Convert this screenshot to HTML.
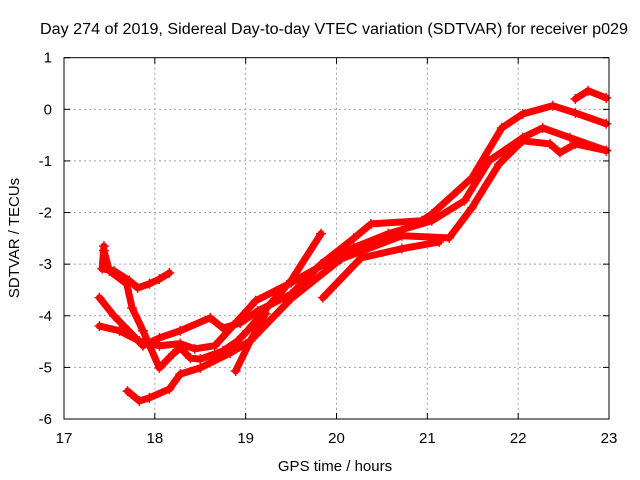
<!DOCTYPE html>
<html><head><meta charset="utf-8"><style>
body{margin:0;background:#fff}
svg{display:block;font-family:"Liberation Sans",sans-serif}
</style></head><body>
<svg id="chart" width="640" height="480">
<text x="334" y="34" font-size="15.5" text-anchor="middle" textLength="588" lengthAdjust="spacingAndGlyphs">Day 274 of 2019, Sidereal Day-to-day VTEC variation (SDTVAR) for receiver p029</text>
<text x="335" y="471" font-size="15" text-anchor="middle">GPS time / hours</text>
<text transform="translate(19,238) rotate(-90)" font-size="15" text-anchor="middle">SDTVAR / TECUs</text>
<g id="grid"></g><g id="marks"></g>
<rect x="64" y="57.7" width="545" height="361.3" fill="none" stroke="#000" stroke-width="1"/>
</svg>
<script>
const xTicks=[17,18,19,20,21,22,23];
const yTicks=[1,0,-1,-2,-3,-4,-5,-6];
const t1h=[17.44,17.42,17.55,17.72,17.81,17.94,18.05,18.16];
const t1v=[-2.65,-3.09,-3.13,-3.32,-3.46,-3.38,-3.29,-3.17];
const t2h=[17.44,17.50,17.69,17.75,17.87,18.05,18.20,18.28,18.39,18.50,18.75,18.91,19.02,19.20,19.50,19.83];
const t2v=[-2.74,-3.13,-3.38,-3.85,-4.29,-5.01,-4.74,-4.62,-4.82,-4.84,-4.68,-4.49,-4.29,-3.91,-3.32,-2.41];
const t3h=[17.39,17.55,17.87,18.05,18.28,18.61,18.75,18.94,19.13,19.50,19.83,20.19,20.38,20.94,21.05,21.49,21.82,22.05,22.38,22.63,22.97];
const t3v=[-3.65,-4.00,-4.58,-4.43,-4.29,-4.04,-4.24,-4.14,-3.91,-3.58,-3.0,-2.50,-2.22,-2.16,-2.03,-1.33,-0.36,-0.09,0.07,-0.07,-0.28];
const t4h=[17.39,17.61,17.83,18.05,18.28,18.44,18.66,18.91,19.11,19.50,20.19,20.57,21.05,21.41,21.68,22.05,22.27,22.57,22.97];
const t4v=[-4.2,-4.29,-4.49,-4.58,-4.54,-4.64,-4.58,-4.10,-3.71,-3.36,-2.68,-2.41,-2.16,-1.77,-1.0,-0.55,-0.36,-0.55,-0.80];
const t5h=[17.70,17.83,17.94,18.16,18.28,18.50,18.83,19.05,19.50,20.05,20.72,21.24,21.49,21.79,22.05,22.35,22.46,22.63,22.97];
const t5v=[-5.46,-5.65,-5.59,-5.42,-5.13,-5.01,-4.72,-4.49,-3.67,-2.90,-2.45,-2.49,-1.91,-1.06,-0.61,-0.67,-0.84,-0.67,-0.80];
const t6h=[19.85,20.27,20.72,21.13];
const t6v=[-3.65,-2.88,-2.70,-2.57];
const t7h=[22.63,22.77,22.97];
const t7v=[0.20,0.36,0.22];
const t8h=[18.89,19.05,19.22];
const t8v=[-5.07,-4.49,-3.96];
const tracksH=[t1h,t2h,t3h,t4h,t5h,t6h,t7h,t8h];
const tracksV=[t1v,t2v,t3v,t4v,t5v,t6v,t7v,t8v];

const NS="http://www.w3.org/2000/svg";
const X0=64,X1=609,Y0=57.7,Y1=419;
function sx(h){return X0+(h-17)/6*(X1-X0);}
function sy(v){return Y0+(1-v)/7*(Y1-Y0);}
const grid=document.getElementById('grid'),marks=document.getElementById('marks'),svg=document.getElementById('chart');
function mk(tag,a,parent){const e=document.createElementNS(NS,tag);for(const k in a)e.setAttribute(k,a[k]);parent.appendChild(e);return e;}
xTicks.forEach(t=>{
  const x=sx(t);
  if(t>17&&t<23){const g=mk('line',{x1:x,x2:x,y1:Y0,y2:Y1,stroke:'#a0a0a0','stroke-dasharray':'2,3'},grid);
  
  }
  mk('line',{x1:x,x2:x,y1:Y1,y2:Y1-6,stroke:'#000'},grid);
  mk('line',{x1:x,x2:x,y1:Y0,y2:Y0+6,stroke:'#000'},grid);
  const l=mk('text',{x:x,y:Y1+24,'font-size':'15','text-anchor':'middle'},svg);
  l.textContent=t;
  
  
});
yTicks.forEach(t=>{
  const y=sy(t);
  if(t<1&&t>-6){const g=mk('line',{x1:X0,x2:X1,y1:y,y2:y,stroke:'#a0a0a0','stroke-dasharray':'2,3'},grid);
  
  }
  mk('line',{x1:X0,x2:X0+6,y1:y,y2:y,stroke:'#000'},grid);
  mk('line',{x1:X1,x2:X1-6,y1:y,y2:y,stroke:'#000'},grid);
  const l=mk('text',{x:X0-12,y:y+5,'font-size':'15','text-anchor':'end'},svg);
  l.textContent=t;
  
  
});
tracksH.forEach((hs,i)=>{
  const vs=tracksV[i];
  const pts=hs.map((h,j)=>sx(h)+','+sy(vs[j])).join(' ');
  const p=mk('polyline',{points:pts,fill:'none',stroke:'#f00','stroke-width':7,'stroke-linejoin':'round','stroke-linecap':'round'},marks);
  
  
  hs.forEach((h,j)=>{
    const x=sx(h),y=sy(vs[j]);
    const m=mk('path',{d:`M${x-5},${y}H${x+5}M${x},${y-5}V${y+5}`,stroke:'#f00','stroke-width':1.4},marks);
    
    
  });
});
</script>
</body></html>
